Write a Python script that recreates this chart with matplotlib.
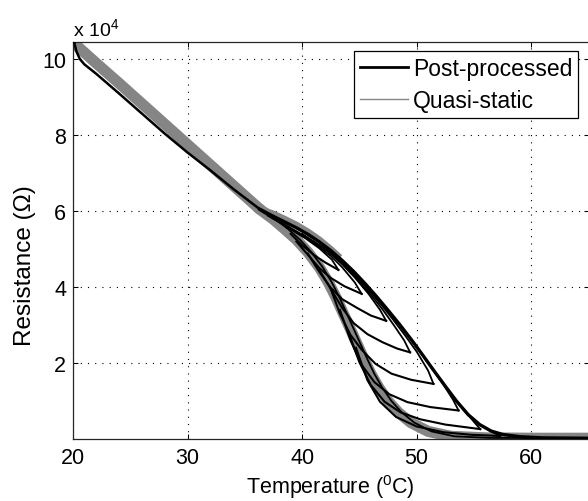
import matplotlib
matplotlib.use('Agg')
import matplotlib.pyplot as plt
from matplotlib.lines import Line2D

# ---------------- data (temperature in degC, resistance in 1e4 ohm) ----------------
# quasi-static (gray) major loop
qs_top_t = [20.15, 22.0, 24.0, 26.0, 28.0, 30.0, 33.0, 36.3]
qs_top_r = [10.40, 9.90, 9.37, 8.83, 8.29, 7.75, 6.94, 6.05]
qs_up_t = [36.3, 37.5, 38.5, 39.5, 40.5, 41.5, 42.5, 43.3]
qs_up_r = [6.05, 5.92, 5.78, 5.63, 5.45, 5.24, 4.99, 4.77]
qs_low_t = [36.3, 37.5, 38.5, 39.5, 40.5, 41.5, 42.3, 43.0, 43.6, 44.2, 44.8, 45.4, 46.0,
            46.7, 47.5, 48.4, 49.5, 51.0, 53.0, 56.0, 60.0, 65.0]
qs_low_r = [6.05, 5.78, 5.52, 5.25, 4.92, 4.52, 4.12, 3.70, 3.30, 2.90, 2.50, 2.10, 1.72,
            1.35, 1.00, 0.70, 0.43, 0.20, 0.07, 0.03, 0.02, 0.02]

# post-processed (black) major loop
pp_top_t = [20.1, 20.3, 20.6, 21.0, 22.0, 24.0, 26.0, 28.0, 30.0, 32.0, 34.0, 36.3]
pp_top_r = [10.45, 10.20, 10.00, 9.86, 9.62, 9.10, 8.57, 8.04, 7.54, 7.07, 6.58, 6.05]
pp_up_t = [36.3, 37.5, 38.5, 39.5, 40.5, 41.5, 42.5, 43.5, 44.5, 45.5, 46.5, 47.5, 48.5,
           49.5, 50.5, 51.5, 52.5, 53.5, 54.5, 55.5, 56.5, 57.5, 59.0, 61.0, 65.0]
pp_up_r = [6.05, 5.86, 5.71, 5.56, 5.39, 5.19, 4.96, 4.70, 4.41, 4.09, 3.75, 3.39, 3.02,
           2.63, 2.22, 1.80, 1.39, 0.99, 0.64, 0.38, 0.21, 0.12, 0.06, 0.03, 0.02]
pp_low_t = [36.3, 37.7, 38.8, 39.8, 40.8, 41.8, 42.6, 43.3, 43.9, 44.5, 45.1, 45.7, 46.3,
            47.0, 47.8, 48.7, 49.8, 51.3, 53.3, 56.3, 65.0]
pp_low_r = [6.05, 5.78, 5.52, 5.25, 4.92, 4.52, 4.12, 3.70, 3.30, 2.90, 2.50, 2.10, 1.72,
            1.35, 1.00, 0.70, 0.43, 0.20, 0.07, 0.03, 0.02]

# minor loops: forward branch (from lower branch to end point) and return branch
minor_fwd_t = [
    [39.0, 40.0, 41.0, 42.0, 43.17],
    [39.5, 40.5, 41.5, 42.5, 43.7, 45.2],
    [40.5, 41.5, 42.5, 43.5, 44.8, 46.0, 47.34],
    [41.5, 42.5, 43.5, 44.5, 45.7, 47.0, 48.3, 49.43],
    [42.5, 43.3, 44.2, 45.2, 46.4, 47.8, 49.5, 51.47],
    [43.3, 44.2, 45.2, 46.3, 47.6, 49.2, 51.2, 53.66],
    [44.0, 45.0, 46.0, 47.2, 48.6, 50.3, 52.5, 55.55],
    [44.7, 45.7, 46.8, 48.2, 50.0, 52.3, 54.8, 57.3],
]
minor_fwd_r = [
    [5.40, 5.10, 4.85, 4.65, 4.45],
    [5.20, 4.85, 4.50, 4.24, 4.02, 3.82],
    [4.88, 4.40, 3.98, 3.68, 3.45, 3.25, 3.11],
    [4.45, 3.95, 3.45, 3.05, 2.76, 2.55, 2.38, 2.28],
    [3.95, 3.30, 2.75, 2.35, 1.98, 1.72, 1.56, 1.45],
    [3.40, 2.62, 1.95, 1.50, 1.18, 0.97, 0.84, 0.75],
    [2.85, 2.02, 1.42, 0.98, 0.70, 0.52, 0.38, 0.26],
    [2.40, 1.55, 0.98, 0.58, 0.33, 0.18, 0.11, 0.08],
]
minor_ret_t = [
    [43.17, 42.6, 41.5, 40.3, 39.0, 37.5, 36.3],
    [45.2, 44.6, 43.5, 42.5, 41.3, 40.0, 38.5, 37.0],
    [47.34, 46.8, 45.8, 44.6, 43.5, 42.3, 41.0, 39.5, 38.0],
    [49.43, 48.9, 48.0, 47.0, 46.0, 45.0, 44.0, 42.8, 41.5, 40.0],
    [51.47, 51.0, 50.0, 49.0, 48.0, 47.0, 46.0, 45.0, 44.0, 42.8],
    [53.66, 53.2, 52.3, 51.3, 50.3, 49.3, 48.3, 47.3, 46.3],
    [55.55, 55.0, 54.2, 53.3, 52.3, 51.3, 50.3, 49.3],
    [57.3, 56.5, 55.5, 54.5, 53.5, 52.5],
]
minor_ret_r = [
    [4.45, 4.72, 5.02, 5.28, 5.52, 5.80, 6.02],
    [3.82, 4.12, 4.52, 4.82, 5.10, 5.35, 5.62, 5.88],
    [3.11, 3.40, 3.82, 4.25, 4.60, 4.93, 5.20, 5.47, 5.72],
    [2.28, 2.60, 3.00, 3.42, 3.80, 4.15, 4.48, 4.82, 5.10, 5.40],
    [1.45, 1.80, 2.30, 2.72, 3.12, 3.50, 3.86, 4.20, 4.50, 4.83],
    [0.75, 1.02, 1.45, 1.88, 2.30, 2.70, 3.08, 3.46, 3.80],
    [0.26, 0.45, 0.75, 1.07, 1.47, 1.88, 2.30, 2.70],
    [0.08, 0.20, 0.37, 0.63, 0.98, 1.38],
]

x_ticks = [20, 30, 40, 50, 60]
y_ticks = [2, 4, 6, 8, 10]
y_ticklabels = ['2', '4', '6', '8', '10']

# ---------------- styling ----------------
plt.rcParams['font.family'] = ['Liberation Sans', 'DejaVu Sans']
plt.rcParams['mathtext.fontset'] = 'custom'
plt.rcParams['mathtext.rm'] = 'Liberation Sans'
plt.rcParams['mathtext.it'] = 'Liberation Sans'
plt.rcParams['mathtext.default'] = 'rm'
FS = 15.5

fig = plt.figure(figsize=(5.88, 5.02), dpi=100)
ax = fig.add_axes([73 / 588, 62 / 502, 515.5 / 588, 397 / 502])

GRAY = '0.52'
for t, r in [(qs_top_t, qs_top_r), (qs_low_t, qs_low_r)]:
    ax.plot(t, r, color=GRAY, lw=8.0, solid_capstyle='round', solid_joinstyle='round', zorder=2)
ax.plot(qs_up_t, qs_up_r, color=GRAY, lw=5.0, solid_capstyle='butt',
        solid_joinstyle='round', zorder=2)

for t, r in zip(minor_fwd_t, minor_fwd_r):
    ax.plot(t, r, color='k', lw=1.5, zorder=3)
for t, r in zip(minor_ret_t, minor_ret_r):
    ax.plot(t, r, color='k', lw=1.3, zorder=3)

ax.plot(pp_top_t, pp_top_r, color='k', lw=1.8, zorder=3)
ax.plot(pp_up_t, pp_up_r, color='k', lw=2.4, zorder=3)
ax.plot(pp_low_t, pp_low_r, color='k', lw=1.3, zorder=3)

ax.set_xlim(20, 65)
ax.set_ylim(0, 10.45)
ax.set_xticks(x_ticks)
ax.set_xticklabels([str(v) for v in x_ticks])
ax.set_yticks(y_ticks)
ax.set_yticklabels(y_ticklabels)

ax.grid(True, color='k', linestyle=(0, (1, 5.5)), linewidth=0.8)
ax.set_axisbelow(True)
ax.tick_params(direction='in', length=3.6, width=0.75, top=True, right=True,
               labelsize=FS, pad=6)
ax.tick_params(axis='y', pad=5)
for s in ax.spines.values():
    s.set_linewidth(0.9)
    s.set_color('0.15')

ax.set_xlabel('Temperature ($^{0}$C)', fontsize=FS, labelpad=3)
ax.set_ylabel('Resistance (\u03a9)', fontsize=17.5)
ax.yaxis.set_label_coords(-0.072, 0.44)

fig.text(73 / 588, 1 - 36 / 502, 'x 10$^{4}$', fontsize=14, va='baseline', ha='left')

handles = [Line2D([], [], color='k', lw=2.0), Line2D([], [], color=GRAY, lw=1.0)]
leg = ax.legend(handles, ['Post-processed', 'Quasi-static'], loc='upper right',
                bbox_to_anchor=(578 / 588, 1 - 52 / 502), bbox_transform=fig.transFigure,
                fontsize=16.5, fancybox=False, framealpha=1, edgecolor='k',
                handlelength=2.1, handletextpad=0.2, labelspacing=0.42,
                borderpad=0.25, borderaxespad=0)
leg.get_frame().set_linewidth(0.9)

fig.savefig('out.png', dpi=100)
